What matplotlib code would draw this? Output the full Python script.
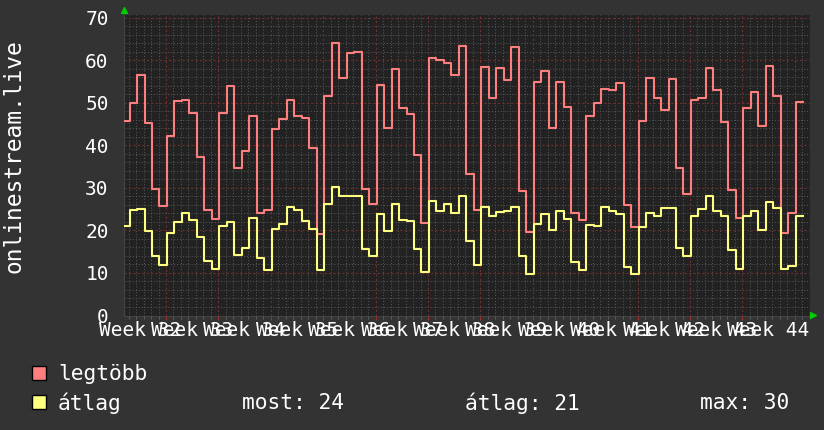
import numpy as np
import matplotlib.pyplot as plt
from matplotlib.patches import Rectangle
from matplotlib.lines import Line2D

# napi értékek (legtöbb / átlag), az első nap 5.87 nappal a 32. hét előtt kezdődik
legtobb = [45.8, 50.0, 56.7, 45.3, 29.8, 25.8, 42.2, 50.4, 50.7, 47.7, 37.4, 24.8,
           22.8, 47.7, 54.0, 34.8, 38.8, 46.9, 24.2, 24.8, 43.9, 46.2, 50.8, 46.9,
           46.5, 39.3, 19.1, 51.6, 64.1, 55.9, 61.8, 62.0, 29.7, 26.2, 54.3, 44.2,
           57.9, 48.9, 47.5, 37.7, 21.8, 60.6, 60.1, 59.4, 56.7, 63.4, 33.3, 24.8,
           58.5, 51.1, 58.3, 55.4, 63.2, 29.4, 19.7, 55.0, 57.6, 44.2, 55.0, 49.1,
           24.0, 22.5, 46.9, 49.9, 53.4, 53.0, 54.8, 26.0, 20.9, 45.8, 55.8, 51.2,
           48.3, 55.6, 34.8, 28.7, 50.7, 51.2, 58.3, 53.0, 45.6, 29.5, 23.0, 48.9,
           52.6, 44.6, 58.7, 51.7, 19.5, 24.0, 50.3]
atlag = [21.1, 24.8, 25.0, 19.9, 14.0, 11.9, 19.5, 21.9, 24.0, 22.5, 18.5, 12.9,
         11.0, 21.1, 22.0, 14.2, 15.9, 22.9, 13.5, 10.8, 20.4, 21.5, 25.5, 24.8,
         22.2, 20.3, 10.6, 26.2, 30.3, 28.2, 28.0, 28.2, 15.7, 14.0, 23.8, 19.9,
         26.2, 22.5, 22.2, 15.7, 10.3, 27.0, 24.7, 26.3, 24.2, 28.2, 17.6, 11.9,
         25.6, 23.5, 24.3, 24.7, 25.6, 14.0, 9.8, 21.5, 23.8, 20.1, 24.7, 22.8,
         12.5, 10.8, 21.3, 21.1, 25.6, 24.7, 23.8, 11.5, 9.8, 20.9, 24.2, 23.3,
         25.4, 25.4, 15.8, 14.0, 23.3, 25.1, 28.0, 24.7, 23.3, 15.3, 10.9, 23.3,
         24.7, 20.0, 26.8, 25.4, 10.9, 11.7, 23.5]
weeks = list(range(32, 45))
first_day = -5.87

W, H = 824, 430
MONO = 'DejaVu Sans Mono'
BG = '#333333'
RED = '#ff7f7f'
YELLOW = '#ffff7f'

fig = plt.figure(figsize=(W / 100, H / 100), dpi=100, facecolor=BG)
ax = fig.add_axes([124 / W, (H - 315.5) / H, (810 - 124) / W, (315.5 - 15) / H])
ax.set_facecolor('#222222')

days = first_day + np.arange(len(legtobb) + 1)
ax.step(days, legtobb + [legtobb[-1]], where='post', color=RED, lw=1.5, zorder=3)
ax.step(days, atlag + [atlag[-1]], where='post', color=YELLOW, lw=1.5, zorder=3)

ax.set_xlim(-5.61, 86.03)
ax.set_ylim(0, 70.7)

# grid: hetek / napok, 10-es és 2-es lépés
ax.set_xticks(np.arange(0, 85, 7))
ax.set_xticks(np.arange(-5, 87, 1), minor=True)
ax.set_yticks(np.arange(0, 71, 10))
ax.set_yticks(np.arange(0, 71, 2), minor=True)
ax.grid(which='minor', color='#5a5a5a', lw=0.7, linestyle=(0, (1, 2)))
ax.grid(which='major', color='#6e3030', lw=0.8, linestyle=(0, (2, 2)))
ax.set_axisbelow(True)

ax.set_xticklabels([])
ax.tick_params(axis='x', which='major', length=3, color='#a03030')
ax.tick_params(axis='x', which='minor', length=2, color='#666666')
ax.tick_params(axis='y', which='both', length=0, pad=11,
               labelcolor='white', labelsize=14)
for lab in ax.get_yticklabels():
    lab.set_family(MONO)
for s in ax.spines.values():
    s.set_visible(False)
ax.spines['left'].set_visible(True)
ax.spines['left'].set_color('#444444')
ax.spines['bottom'].set_visible(True)
ax.spines['bottom'].set_color('#444444')

# hét feliratok a hetek közepén
for k, w in enumerate(weeks):
    ax.annotate(f'Week {w}', xy=(7 * k - 3.5, 0), xycoords=ax.get_xaxis_transform(),
                xytext=(0, -4), textcoords='offset points', ha='center', va='top',
                color='white', fontsize=14, family=MONO, annotation_clip=False)

fig.text(14 / W, 1 - 156 / H, 'onlinestream.live', rotation=90, ha='center',
         va='center', color='white', fontsize=16.5, family=MONO)

# zöld nyilak
fig.add_artist(Line2D([124 / W], [1 - 10 / H], marker='^', ms=5, color='#00cc00',
                      transform=fig.transFigure))
fig.add_artist(Line2D([813 / W], [1 - 315 / H], marker='>', ms=5, color='#00cc00',
                      transform=fig.transFigure))

# jelmagyarázat
for y, c in [(373, RED), (402, YELLOW)]:
    fig.add_artist(Rectangle((32 / W, 1 - (y + 7) / H), 14 / W, 14 / H,
                             transform=fig.transFigure, facecolor=c,
                             edgecolor='black', lw=1))
txt = dict(color='white', fontsize=15.3, family=MONO, va='center')
fig.text(58 / W, 1 - 374 / H, 'legtöbb', **txt)
fig.text(58 / W, 1 - 403 / H, 'átlag', **txt)
fig.text(242 / W, 1 - 403 / H, f'most: {atlag[-1]:.0f}', **txt)
fig.text(465 / W, 1 - 403 / H, f'átlag: {np.mean(atlag):.0f}', **txt)
fig.text(700 / W, 1 - 403 / H, f'max: {max(atlag):.0f}', **txt)

fig.savefig('out.png', dpi=100, facecolor=BG)
